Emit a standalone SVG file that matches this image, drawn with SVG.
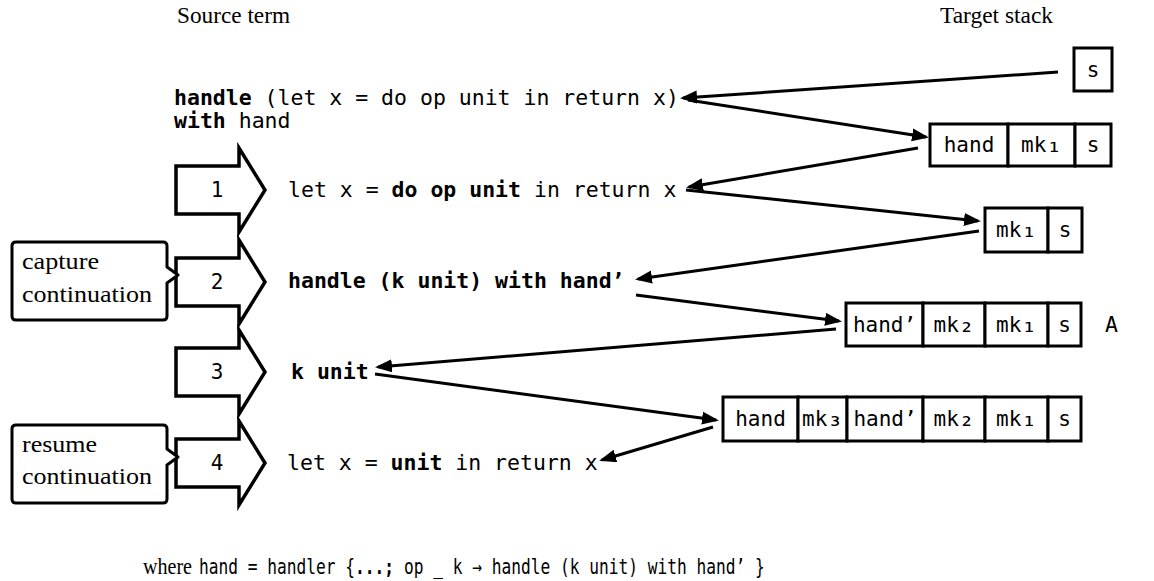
<svg xmlns="http://www.w3.org/2000/svg" width="1154" height="581" viewBox="0 0 1154 581">
  <style>
    .serif { font-family: "Liberation Serif", "DejaVu Serif", serif; font-size: 24px; fill: #000; }
    .mono { font-family: "DejaVu Sans Mono", "Liberation Mono", monospace; font-size: 21.5px; fill: #000; }
    .cellt { font-family: "DejaVu Sans Mono", "Liberation Mono", monospace; font-size: 21px; fill: #000; text-anchor: middle; }
    .sub { font-size: 26px; }
    .b { font-weight: bold; }
    .step { fill: #fff; stroke: #000; stroke-width: 3.5; stroke-linejoin: miter; }
    .note { fill: #fff; stroke: #000; stroke-width: 3; stroke-linejoin: round; }
    .cell { fill: #fff; stroke: #000; stroke-width: 3; }
    .link { fill: none; stroke: #000; stroke-width: 3; }
  </style>
  <defs>
    <marker id="head" markerUnits="userSpaceOnUse" markerWidth="18" markerHeight="14" refX="14" refY="6.5" orient="auto">
      <path d="M0,0 L17,6.5 L0,13 Z" fill="#000"/>
    </marker>
  </defs>

  <!-- column headings -->
  <text id="source-heading" class="serif" x="177" y="23" textLength="113" lengthAdjust="spacingAndGlyphs">Source term</text>
  <text id="target-heading" class="serif" x="940" y="23" textLength="113" lengthAdjust="spacingAndGlyphs">Target stack</text>

  <!-- source terms -->
  <g id="term0">
    <text class="mono" x="174" y="105"><tspan class="b">handle</tspan> (let x = do op unit in return x)</text>
    <text class="mono" x="174" y="128"><tspan class="b">with</tspan> hand</text>
  </g>
  <g id="term1">
    <text class="mono" x="288" y="197">let x = <tspan class="b">do op unit</tspan> in return x</text>
  </g>
  <g id="term2">
    <text class="mono b" x="288" y="288">handle (k unit) with hand’</text>
  </g>
  <g id="term3">
    <text class="mono b" x="291" y="379">k unit</text>
  </g>
  <g id="term4">
    <text class="mono" x="287" y="470">let x = <tspan class="b">unit</tspan> in return x</text>
  </g>

  <!-- reduction steps -->
  <g id="step1">
    <path class="step" d="M176,166 H239 V148 L265,190 L239,232 V214 H176 Z"/>
    <text class="cellt" x="217" y="197">1</text>
  </g>
  <g id="step2">
    <path class="step" d="M176,258 H239 V240 L265,282 L239,324 V306 H176 Z"/>
    <text class="cellt" x="217" y="289">2</text>
  </g>
  <g id="step3">
    <path class="step" d="M176,348 H239 V330 L265,372 L239,414 V396 H176 Z"/>
    <text class="cellt" x="217" y="379">3</text>
  </g>
  <g id="step4">
    <path class="step" d="M176,439 H239 V421 L265,463 L239,505 V487 H176 Z"/>
    <text class="cellt" x="217" y="470">4</text>
  </g>

  <!-- callouts -->
  <g id="capture-note">
    <path class="note" d="M16,242 H163 Q167,242 167,246 V267 L178,275 L167,283 V316 Q167,320 163,320 H16 Q12,320 12,316 V246 Q12,242 16,242 Z"/>
    <text class="serif" x="22" y="269" textLength="77" lengthAdjust="spacingAndGlyphs">capture</text>
    <text class="serif" x="22" y="302" textLength="130" lengthAdjust="spacingAndGlyphs">continuation</text>
  </g>
  <g id="resume-note">
    <path class="note" d="M16,425 H163 Q167,425 167,429 V449 L178,457 L167,465 V499 Q167,503 163,503 H16 Q12,503 12,499 V429 Q12,425 16,425 Z"/>
    <text class="serif" x="22" y="452" textLength="75" lengthAdjust="spacingAndGlyphs">resume</text>
    <text class="serif" x="22" y="484" textLength="130" lengthAdjust="spacingAndGlyphs">continuation</text>
  </g>

  <!-- target stacks -->
  <g id="stack0">
    <rect class="cell" x="1074" y="48" width="38" height="43"/>
    <text class="cellt" x="1093" y="77">s</text>
  </g>
  <g id="stack1">
    <rect class="cell" x="930" y="124" width="78" height="42"/>
    <rect class="cell" x="1008" y="124" width="67" height="42"/>
    <rect class="cell" x="1075" y="124" width="36" height="42"/>
    <text class="cellt" x="969" y="152">hand</text>
    <text class="cellt" x="1041.5" y="152">mk<tspan class="sub">₁</tspan></text>
    <text class="cellt" x="1093" y="152">s</text>
  </g>
  <g id="stack2">
    <rect class="cell" x="985" y="208" width="63" height="44"/>
    <rect class="cell" x="1048" y="208" width="34" height="44"/>
    <text class="cellt" x="1016.5" y="237">mk<tspan class="sub">₁</tspan></text>
    <text class="cellt" x="1065" y="237">s</text>
  </g>
  <g id="stack3">
    <rect class="cell" x="846" y="303" width="77" height="43"/>
    <rect class="cell" x="923" y="303" width="62" height="43"/>
    <rect class="cell" x="985" y="303" width="63" height="43"/>
    <rect class="cell" x="1048" y="303" width="33" height="43"/>
    <text class="cellt" x="884.5" y="332">hand’</text>
    <text class="cellt" x="954" y="332">mk<tspan class="sub">₂</tspan></text>
    <text class="cellt" x="1016.5" y="332">mk<tspan class="sub">₁</tspan></text>
    <text class="cellt" x="1064.5" y="332">s</text>
    <text class="mono" x="1105" y="332">A</text>
  </g>
  <g id="stack4">
    <rect class="cell" x="723" y="397" width="75" height="44"/>
    <rect class="cell" x="798" y="397" width="49" height="44"/>
    <rect class="cell" x="847" y="397" width="76" height="44"/>
    <rect class="cell" x="923" y="397" width="62" height="44"/>
    <rect class="cell" x="985" y="397" width="63" height="44"/>
    <rect class="cell" x="1048" y="397" width="33" height="44"/>
    <text class="cellt" x="760.5" y="426">hand</text>
    <text class="cellt" x="822.5" y="426">mk<tspan class="sub">₃</tspan></text>
    <text class="cellt" x="885" y="426">hand’</text>
    <text class="cellt" x="954" y="426">mk<tspan class="sub">₂</tspan></text>
    <text class="cellt" x="1016.5" y="426">mk<tspan class="sub">₁</tspan></text>
    <text class="cellt" x="1064.5" y="426">s</text>
  </g>

  <!-- connectors between terms and stacks -->
  <g id="connectors">
    <line class="link" x1="1058" y1="72" x2="683" y2="98" marker-end="url(#head)"/>
    <line class="link" x1="688" y1="100" x2="926" y2="137" marker-end="url(#head)"/>
    <line class="link" x1="918" y1="148" x2="689" y2="187" marker-end="url(#head)"/>
    <line class="link" x1="686" y1="190" x2="978" y2="221" marker-end="url(#head)"/>
    <line class="link" x1="979" y1="231" x2="638" y2="279" marker-end="url(#head)"/>
    <line class="link" x1="636" y1="295" x2="839" y2="321" marker-end="url(#head)"/>
    <line class="link" x1="836" y1="329" x2="378" y2="367" marker-end="url(#head)"/>
    <line class="link" x1="375" y1="374" x2="716" y2="420" marker-end="url(#head)"/>
    <line class="link" x1="713" y1="427" x2="602" y2="460" marker-end="url(#head)"/>
  </g>

  <!-- handler definition, set in a horizontally condensed face -->
  <g id="footnote">
    <text class="serif" x="143" y="574" textLength="49" lengthAdjust="spacingAndGlyphs">where</text>
    <g transform="translate(199,574) scale(0.772,1)">
      <text class="mono" x="0" y="0" style="font-size:21px">hand = handler {<tspan class="b">...;</tspan> op _ k → handle (k unit) with hand’ }</text>
    </g>
  </g>
</svg>
